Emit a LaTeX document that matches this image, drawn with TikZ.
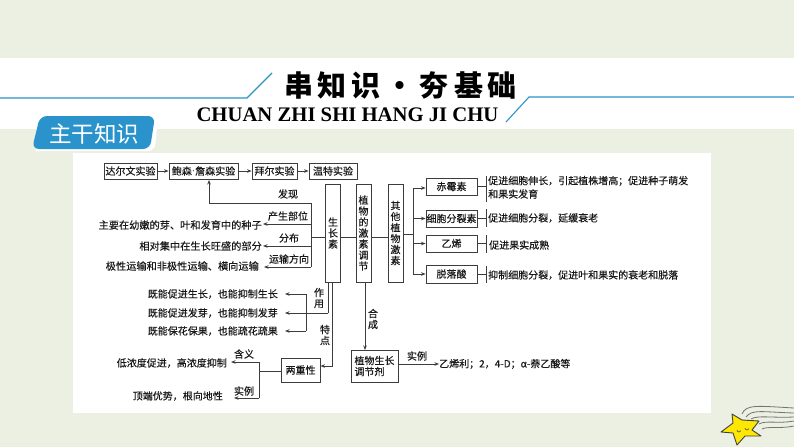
\documentclass[tikz,border=0pt]{standalone}
\usepackage{fontspec}
\setmainfont[FakeBold=0.25]{Noto Sans CJK SC}
\newfontfamily\titlefont{Noto Sans CJK SC}
\newfontfamily\tagfont{Noto Sans CJK SC}
\newfontfamily\enfont{Liberation Serif}
\usetikzlibrary{arrows.meta}
\definecolor{bgc}{HTML}{EBF0E3}
\definecolor{bluec}{HTML}{2A93CC}
\definecolor{linec}{HTML}{3C3C3C}
\tikzset{
  bx/.style={draw=linec,line width=0.9pt,fill=white,inner sep=0pt,align=center,font=\fontsize{10}{11}\selectfont,text=black!90},
  vbx/.style={bx,minimum width=15pt,minimum height=98pt,text width=11pt},
  hbx/.style={bx,minimum height=17pt},
  txt/.style={inner sep=0pt,font=\fontsize{10}{11}\selectfont,text=black!90},
  ltxt/.style={txt,font=\fontsize{10.2}{11}\selectfont},
  vtxt/.style={txt,align=center,text width=11pt},
  ln/.style={draw=linec,line width=0.8pt},
  arr/.style={ln,-{Stealth[length=4.5pt,width=3.5pt]}},
  blueln/.style={draw=bluec,line width=1.1pt}
}
\begin{document}
\begin{tikzpicture}[x=1pt,y=-1pt]
\useasboundingbox (0,0) rectangle (794,447);
\fill[bgc] (0,0) rectangle (794,447);
\fill[white] (0,58) rectangle (794,129);
\fill[white] (73,153) rectangle (711,413);
% header
\draw[blueln] (0,98) -- (247,98) -- (272,73);
\draw[blueln] (506,122) -- (529,97) -- (794,97);
\node[inner sep=0pt,font=\titlefont\bfseries\fontsize{29}{30}\selectfont] (title) at (400.5,85) {串\hspace{5pt}知\hspace{5pt}识\hspace{5pt}·\hspace{5pt}夯\hspace{5pt}基\hspace{5pt}础};
\node[inner sep=0pt,font=\enfont\fontsize{20.7}{22}\selectfont\bfseries] (sub) at (347.5,115) {CHUAN ZHI SHI HANG JI CHU};
% tag
\fill[white] (36,129) -- (157,129) -- (155,147) -- (150,151) -- (36,151) -- cycle;
\fill[bluec, rounded corners=7pt] (40,116) -- (155,116) -- (150,149) -- (32,149) -- cycle;
\node[inner sep=0pt,text=white,font=\tagfont\fontsize{22.5}{24}\selectfont] (tag) at (94,134) {主干知识};
% top boxes
\node[hbx,minimum width=53pt,minimum height=16pt] (d1) at (130.5,171) {达尔文实验};
\node[hbx,minimum width=69pt,minimum height=16pt] (d2) at (203.5,171) {鲍森{\enfont·}詹森实验};
\node[hbx,minimum width=45pt,minimum height=16pt] (d3) at (274.5,171) {拜尔实验};
\node[hbx,minimum width=48pt,minimum height=16pt] (d4) at (333,171) {温特实验};
\draw[arr] (d1) -- (d2);
\draw[arr] (d2) -- (d3);
\draw[arr] (d3) -- (d4);
% vertical boxes
\node[vbx] (szs) at (333,233) {生\\长\\素};
\node[vbx] (zw) at (363.5,233) {植\\物\\的\\激\\素\\调\\节};
\node[vbx] (qt) at (395.5,233) {其\\他\\植\\物\\激\\素};
\draw[ln] (szs.east |- 0,237) -- (zw.west |- 0,237);
\draw[ln] (zw.east |- 0,237) -- (qt.west |- 0,237);
% right hormones
\node[hbx,minimum width=51pt] (h1) at (451.5,186.5) {赤霉素};
\node[hbx,minimum width=51pt] (h2) at (451.5,218.5) {细胞分裂素};
\node[hbx,minimum width=51pt] (h3) at (451.5,243.5) {乙烯};
\node[hbx,minimum width=51pt,minimum height=18pt] (h4) at (451.5,274) {脱落酸};
\coordinate (qb) at (413,234);
\draw[ln] (qt.east |- qb) -- (qb);
\draw[ln] (413,188) -- (413,274);
\draw[arr] (413,188) -- (h1.west |- 0,188);
\draw[arr] (413,218.5) -- (h2.west);
\draw[arr] (413,243.5) -- (h3.west);
\draw[arr] (413,274) -- (h4.west);
\node[txt,anchor=west] (e1) at (488,181) {促进细胞伸长，引起植株增高；促进种子萌发};
\node[txt,anchor=west] (e1b) at (488,194) {和果实发育};
\node[txt,anchor=west] (e2) at (488,218) {促进细胞分裂，延缓衰老};
\node[txt,anchor=west] (e3) at (489,245) {促进果实成熟};
\node[txt,anchor=west] (e4) at (488,275) {抑制细胞分裂，促进叶和果实的衰老和脱落};
\draw[ln] (486,176) -- (486,202);
\draw[ln] (486,209) -- (486,227);
\draw[ln] (486,235) -- (486,253);
\draw[ln] (486,266) -- (486,283);
\draw[ln] (h1.east) -- (486,186.5);
\draw[ln] (h2.east) -- (486,218.5);
\draw[ln] (h3.east) -- (486,243.5);
\draw[ln] (h4.east) -- (486,274);
% left part
\coordinate (lb) at (311,237);
\draw[ln] (szs.west |- lb) -- (lb);
\draw[ln] (311,203) -- (311,267);
\draw[arr] (311,203) -- (209,203) -- (209,180);
\node[txt] (l0) at (288,194) {发现};
\node[txt] (l1) at (288,216) {产生部位};
\node[txt] (l2) at (289,238) {分布};
\node[txt] (l3) at (289,259) {运输方向};
\node[ltxt,anchor=east] (t1) at (262,225) {主要在幼嫩的芽、叶和发育中的种子};
\node[ltxt,anchor=east] (t2) at (262,246) {相对集中在生长旺盛的部分};
\node[ltxt,anchor=east] (t3) at (259,266) {极性运输和非极性运输、横向运输};
\draw[arr] (311,224) -- (263,224);
\draw[arr] (311,246) -- (263,246);
\draw[arr] (311,267) -- (264,267);
% action
\draw[ln] (328,282) -- (328,313);
\draw[arr] (328,313) -- (285,313);
\draw[ln] (306,294) -- (306,331);
\draw[arr] (306,294) -- (285,294);
\draw[arr] (306,331) -- (285,331);
\node[txt,anchor=east] (a1) at (278,294) {既能促进生长，也能抑制生长};
\node[txt,anchor=east] (a2) at (278,313) {既能促进发芽，也能抑制发芽};
\node[txt,anchor=east] (a3) at (278,331) {既能保花保果，也能疏花疏果};
\node[vtxt] (zy) at (319,298) {作\\用};
\node[vtxt] (td) at (325,335) {特\\点};
% liangchong
\node[hbx,minimum width=39pt,minimum height=24pt] (lc) at (300.5,370) {两重性};
\draw[arr] (332,282) -- (332,366) -- (lc.east |- 0,366);
\coordinate (lcb) at (259,371);
\draw[ln] (lc.west |- lcb) -- (lcb);
\draw[ln] (259,362) -- (259,398);
\node[txt,anchor=east] (c1) at (227,363) {低浓度促进，高浓度抑制};
\node[txt,anchor=east] (c2) at (223,396) {顶端优势，根向地性};
\draw[arr] (259,362) -- (231,362);
\draw[arr] (259,398) -- (234,398);
\node[txt] (hy) at (244,354) {含义};
\node[txt] (sl) at (244,391) {实例};
% regulators
\node[hbx,minimum width=47pt,minimum height=32pt,align=left] (tj) at (374.5,366) {植物生长\\调节剂};
\draw[arr] (365,282) -- (365,350);
\node[vtxt] (hc) at (373,319) {合\\成};
\node[txt,anchor=west] (sr) at (439,364) {乙烯利；2，4-D；α-萘乙酸等};
\draw[arr] (tj.east |- sr) -- (sr.west);
\node[txt] (sl2) at (417,356) {实例};
% star
\begin{scope}[draw=black!55,line width=0.8pt]
\draw (742,414) .. controls (746,404) and (758,406) .. (794,408);
\draw (746,417) .. controls (752,409) and (762,412) .. (794,413);
\draw (751,419) .. controls (758,415) and (770,418) .. (794,417);
\draw (759,424) .. controls (766,420) and (778,424) .. (794,421);
\draw (762,429) .. controls (768,426) and (780,429) .. (794,426);
\end{scope}
\draw[fill=yellow!90!orange,draw=black!75,line width=0.9pt,line join=round]
 (732,414) -- (742,420) -- (759,421) -- (752,430) -- (761,436) -- (745,436) -- (737,445) -- (733,433) -- (721,432) -- (733,423) -- cycle;
\draw[black!70,line width=0.6pt] (737,430) arc (180:20:2);
\draw[black!70,line width=0.6pt] (745,428) arc (180:20:2);
\end{tikzpicture}
\end{document}
